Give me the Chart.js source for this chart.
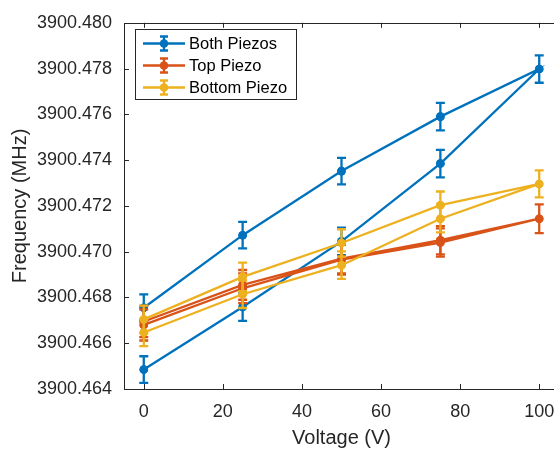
<!DOCTYPE html>
<html><head><meta charset="utf-8">
<script src="https://cdn.jsdelivr.net/npm/chart.js@4/dist/chart.umd.min.js"></script>
<style>html,body{margin:0;padding:0;background:#fff;overflow:hidden;width:554px;height:449px}canvas{display:block}</style>
</head><body>
<canvas id="c" width="600" height="449"></canvas>
<script>
// ---- data ----
const seriesNames = ['Both Piezos', 'Top Piezo', 'Bottom Piezo'];
const voltage = [0, 25, 50, 75, 100, 75, 50, 25, 0];
const bothPiezos   = [3900.46485, 3900.46758, 3900.47045, 3900.47385, 3900.47798, 3900.47590, 3900.47352, 3900.47072, 3900.46755];
const bothErr      = [0.00058, 0.00060, 0.00060, 0.00060, 0.00060, 0.00060, 0.00058, 0.00058, 0.00058];
const topPiezo     = [3900.46680, 3900.46840, 3900.46965, 3900.47040, 3900.47144, 3900.47050, 3900.46970, 3900.46855, 3900.46695];
const topErr       = [0.00068, 0.00065, 0.00065, 0.00062, 0.00063, 0.00062, 0.00065, 0.00065, 0.00068];
const bottomPiezo  = [3900.46647, 3900.46814, 3900.46941, 3900.47144, 3900.47296, 3900.47203, 3900.47038, 3900.46890, 3900.46704];
const bottomErr    = [0.00060, 0.00060, 0.00060, 0.00060, 0.00059, 0.00060, 0.00060, 0.00062, 0.00060];
const xTicks = [0, 20, 40, 60, 80, 100];
const yTicks = [3900.464, 3900.466, 3900.468, 3900.470, 3900.472, 3900.474, 3900.476, 3900.478, 3900.480];

// ---- styles ----
const colors = ['#0072BD', '#D95319', '#EDB120'];
const AX = '#262626';
const FONT = 'Liberation Sans, Arial, Helvetica, sans-serif';
const W = 600, H = 449;
const PLOT = {left: 124, top: 17, right: 559, bottom: 389};
const LW = 2.3;

const values = [bothPiezos, topPiezo, bottomPiezo];
const errors = [bothErr, topErr, bottomErr];

const datasets = seriesNames.map((name, i) => ({
  label: name,
  data: voltage.map((v, k) => ({x: v, y: values[i][k]})),
  errors: errors[i],
  borderColor: colors[i],
  backgroundColor: colors[i],
  borderWidth: LW,
  pointRadius: 4.3,
  pointBorderWidth: 0,
  pointBackgroundColor: colors[i],
  tension: 0,
  fill: false,
  order: 3 - i
}));

const errorBarPlugin = {
  id: 'errorBars',
  afterDatasetDraw(chart, args) {
    const ds = chart.data.datasets[args.index];
    const ctx = chart.ctx, xs = chart.scales.x, ys = chart.scales.y;
    ctx.save();
    ctx.strokeStyle = ds.borderColor;
    ctx.lineWidth = LW;
    ds.data.forEach((p, k) => {
      const e = ds.errors[k];
      const px = xs.getPixelForValue(p.x);
      const y1 = ys.getPixelForValue(p.y - e);
      const y2 = ys.getPixelForValue(p.y + e);
      const cw = 4.5;
      ctx.beginPath();
      ctx.moveTo(px, y1); ctx.lineTo(px, y2);
      ctx.moveTo(px - cw, y1); ctx.lineTo(px + cw, y1);
      ctx.moveTo(px - cw, y2); ctx.lineTo(px + cw, y2);
      ctx.stroke();
      ctx.beginPath();
      ctx.arc(px, ys.getPixelForValue(p.y), 4.3, 0, Math.PI * 2);
      ctx.fillStyle = ds.borderColor;
      ctx.fill();
    });
    ctx.restore();
  }
};

const boxPlugin = {
  id: 'matlabBox',
  afterDraw(chart) {
    const ctx = chart.ctx, a = chart.chartArea, xs = chart.scales.x, ys = chart.scales.y;
    ctx.save();
    ctx.strokeStyle = AX;
    ctx.lineWidth = 1;
    ctx.strokeRect(Math.round(a.left) + 0.5, Math.round(a.top) + 0.5, Math.round(a.right - a.left), Math.round(a.bottom - a.top));
    const tl = 5;
    ctx.beginPath();
    xTicks.forEach(v => {
      const px = Math.round(xs.getPixelForValue(v)) + 0.5;
      ctx.moveTo(px, a.bottom); ctx.lineTo(px, a.bottom - tl);
      ctx.moveTo(px, a.top); ctx.lineTo(px, a.top + tl);
    });
    yTicks.forEach(v => {
      const py = Math.round(ys.getPixelForValue(v)) + 0.5;
      ctx.moveTo(a.left, py); ctx.lineTo(a.left + tl, py);
      ctx.moveTo(a.right, py); ctx.lineTo(a.right - tl, py);
    });
    ctx.stroke();

    // legend
    const lx = 135.5, ly = 29.5, lw = 161, lh = 70;
    ctx.fillStyle = '#fff';
    ctx.fillRect(lx, ly, lw, lh);
    ctx.strokeRect(lx, ly, lw, lh);
    const rows = [43.5, 65.5, 87.5];
    chart.data.datasets.forEach((ds, i) => {
      const y = rows[i];
      ctx.strokeStyle = ds.borderColor;
      ctx.fillStyle = ds.borderColor;
      ctx.lineWidth = LW;
      ctx.beginPath();
      ctx.moveTo(143, y); ctx.lineTo(185, y);
      ctx.moveTo(164, y - 7); ctx.lineTo(164, y + 7);
      ctx.moveTo(160, y - 7); ctx.lineTo(168, y - 7);
      ctx.moveTo(160, y + 7); ctx.lineTo(168, y + 7);
      ctx.stroke();
      ctx.beginPath();
      ctx.arc(164, y, 4.3, 0, Math.PI * 2);
      ctx.fill();
      ctx.fillStyle = '#000';
      ctx.font = '16.5px ' + FONT;
      ctx.textBaseline = 'middle';
      ctx.textAlign = 'left';
      ctx.fillText(ds.label, 189, y + 0.5);
    });
    ctx.restore();
  }
};

new Chart(document.getElementById('c'), {
  type: 'line',
  data: {datasets},
  options: {
    responsive: false,
    devicePixelRatio: 1,
    animation: false,
    events: [],
    layout: {padding: {left: 0, top: PLOT.top, right: W - PLOT.right, bottom: 0}},
    plugins: {legend: {display: false}, tooltip: {enabled: false}},
    scales: {
      x: {
        type: 'linear', min: -5, max: 105,
        afterBuildTicks: s => { s.ticks = xTicks.map(v => ({value: v})); },
        afterFit: s => { s.height = H - PLOT.bottom; },
        grid: {display: false, drawTicks: false},
        border: {display: false},
        ticks: {color: AX, font: {family: FONT, size: 18}, padding: 12, maxRotation: 0, callback: v => String(v)},
        title: {display: true, text: 'Voltage (V)', color: AX, font: {family: FONT, size: 20}, padding: {top: 0, bottom: -1}}
      },
      y: {
        type: 'linear', min: yTicks[0], max: yTicks[yTicks.length - 1],
        afterBuildTicks: s => { s.ticks = yTicks.map(v => ({value: v})); },
        afterFit: s => { s.width = PLOT.left; },
        grid: {display: false, drawTicks: false},
        border: {display: false},
        ticks: {color: AX, font: {family: FONT, size: 18}, padding: 12, callback: v => Number(v).toFixed(3)},
        title: {display: true, text: 'Frequency (MHz)', color: AX, font: {family: FONT, size: 20}, padding: {top: 8, bottom: 0}}
      }
    }
  },
  plugins: [errorBarPlugin, boxPlugin]
});
</script>
</body></html>
